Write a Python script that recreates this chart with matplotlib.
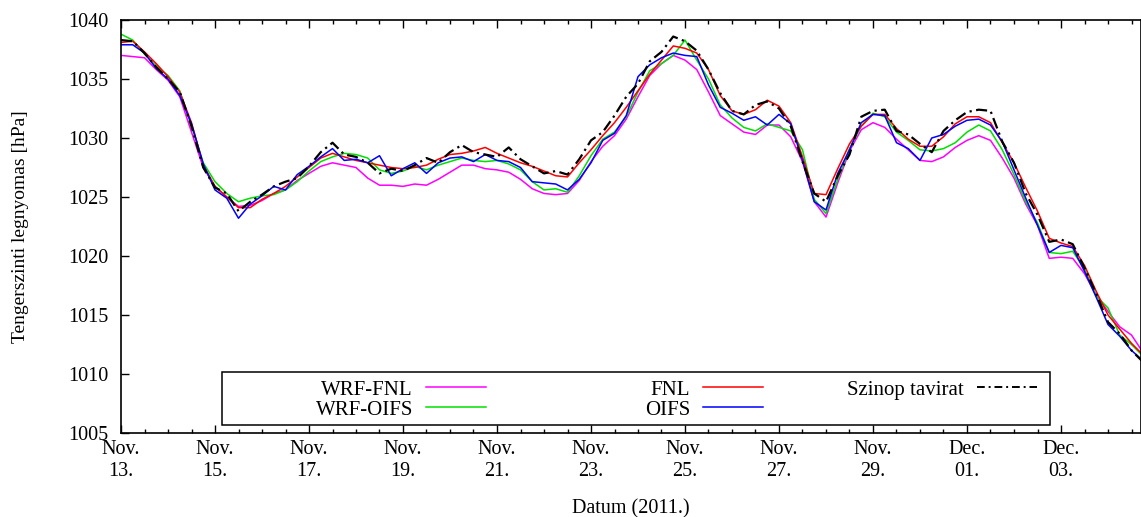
import numpy as np
import matplotlib
matplotlib.use("Agg")
import matplotlib.pyplot as plt
from matplotlib.patches import Rectangle
from matplotlib.lines import Line2D
from matplotlib.legend import Legend
from matplotlib.ticker import MultipleLocator

plt.rcParams['font.family'] = ['Liberation Serif', 'DejaVu Serif']

# time axis: days since 2011-11-13 00 UTC, 6-hourly
days = np.arange(0, 21.76, 0.25)

wrf_fnl = [1037.0, 1036.9, 1036.8, 1035.8, 1034.9, 1033.5, 1030.5, 1027.5,
           1025.9, 1025.0, 1024.2, 1024.3, 1024.7, 1025.3, 1025.6, 1026.4,
           1027.0, 1027.6, 1027.9, 1027.7, 1027.5, 1026.6, 1026.0, 1026.0,
           1025.9, 1026.1, 1026.0, 1026.5, 1027.1, 1027.7, 1027.7, 1027.4,
           1027.3, 1027.1, 1026.5, 1025.7, 1025.3, 1025.2, 1025.3, 1026.4,
           1028.0, 1029.3, 1030.2, 1031.6, 1033.5, 1035.3, 1036.3, 1037.0,
           1036.6, 1035.8, 1033.9, 1031.9, 1031.2, 1030.5, 1030.3, 1031.1,
           1031.1, 1030.1, 1028.0, 1024.6, 1023.3, 1026.2, 1028.9, 1030.7,
           1031.3, 1030.9, 1029.9, 1029.0, 1028.1, 1028.0, 1028.4, 1029.2,
           1029.8, 1030.2, 1029.8, 1028.3, 1026.6, 1024.4, 1022.6, 1019.8,
           1019.9, 1019.8, 1018.5, 1016.7, 1015.3, 1014.0, 1013.3, 1011.8]

wrf_oifs = [1038.8, 1038.3, 1037.1, 1036.1, 1035.3, 1034.0, 1031.0, 1027.9,
            1026.3, 1025.3, 1024.6, 1024.9, 1025.1, 1025.2, 1025.6, 1026.3,
            1027.2, 1028.0, 1028.4, 1028.7, 1028.6, 1028.3, 1027.3, 1027.0,
            1027.2, 1027.6, 1027.3, 1027.7, 1028.0, 1028.3, 1028.1, 1028.0,
            1028.1, 1027.8, 1027.3, 1026.3, 1025.6, 1025.7, 1025.4, 1026.8,
            1028.5, 1029.9, 1030.5, 1031.8, 1033.9, 1035.7, 1036.3, 1037.0,
            1038.3, 1036.6, 1035.0, 1032.8, 1031.7, 1030.9, 1030.6, 1031.2,
            1030.9, 1030.6, 1029.0, 1024.8, 1023.6, 1026.5, 1029.1, 1031.0,
            1032.1, 1031.8, 1030.5, 1029.8, 1029.0, 1028.9, 1029.1, 1029.6,
            1030.5, 1031.1, 1030.6, 1029.0, 1026.9, 1024.6, 1022.8, 1020.3,
            1020.2, 1020.4, 1018.9, 1016.6, 1015.6, 1013.3, 1012.5, 1011.5]

fnl = [1038.1, 1038.2, 1037.3, 1036.3, 1035.2, 1033.9, 1031.3, 1027.7,
       1025.9, 1025.0, 1024.1, 1024.1, 1024.8, 1025.3, 1025.9, 1026.7,
       1027.5, 1028.3, 1028.7, 1028.4, 1028.1, 1027.9, 1027.7, 1027.5,
       1027.4, 1027.5, 1027.7, 1028.2, 1028.6, 1028.7, 1028.9, 1029.2,
       1028.7, 1028.3, 1027.9, 1027.6, 1027.2, 1026.8, 1026.7, 1027.9,
       1029.0, 1030.2, 1031.3, 1032.6, 1034.0, 1035.4, 1036.6, 1037.8,
       1037.6, 1037.2, 1035.8, 1033.6, 1032.3, 1032.0, 1032.4, 1033.2,
       1032.7, 1031.3, 1028.4, 1025.3, 1025.2, 1027.4, 1029.5, 1031.0,
       1032.0, 1032.0, 1030.8, 1029.9, 1029.3, 1029.3, 1030.1, 1031.2,
       1031.8, 1031.8, 1031.3, 1029.6, 1027.9, 1025.8, 1023.8, 1021.5,
       1021.1, 1020.8, 1019.2, 1017.0, 1015.0, 1013.8, 1012.6, 1011.6]

oifs = [1037.9, 1037.9, 1037.2, 1035.9, 1035.0, 1033.6, 1031.2, 1027.8,
        1025.6, 1024.9, 1023.2, 1024.4, 1025.1, 1025.9, 1025.6, 1026.9,
        1027.6, 1028.4, 1029.1, 1028.1, 1028.2, 1027.9, 1028.5, 1026.8,
        1027.4, 1027.9, 1027.0, 1027.9, 1028.3, 1028.4, 1028.0, 1028.6,
        1028.1, 1028.0, 1027.5, 1026.3, 1026.2, 1026.1, 1025.6, 1026.5,
        1027.9, 1029.8, 1030.4, 1031.9, 1035.2, 1036.2, 1036.8, 1037.2,
        1037.0, 1036.9, 1034.5, 1032.6, 1032.1, 1031.5, 1031.8, 1031.1,
        1032.0, 1031.2, 1028.1, 1024.6, 1023.9, 1027.0, 1029.0, 1031.3,
        1032.0, 1031.9, 1029.6, 1029.1, 1028.1, 1030.0, 1030.3, 1031.0,
        1031.5, 1031.6, 1031.1, 1029.7, 1027.3, 1024.9, 1022.6, 1020.3,
        1020.9, 1020.7, 1018.7, 1016.5, 1014.2, 1013.2, 1012.0, 1011.1]

szinop = [1038.3, 1038.2, 1037.2, 1036.0, 1035.0, 1033.9, 1031.0, 1027.5,
          1025.8, 1025.3, 1023.8, 1024.6, 1025.2, 1025.9, 1026.3, 1026.6,
          1027.6, 1028.8, 1029.6, 1028.6, 1028.4, 1027.9, 1027.0, 1027.4,
          1027.2, 1027.7, 1028.3, 1027.9, 1028.8, 1029.4, 1028.8, 1028.6,
          1028.4, 1029.2, 1028.2, 1027.6, 1027.0, 1027.2, 1026.9, 1028.2,
          1029.8, 1030.5, 1031.9, 1033.5, 1034.6, 1036.5, 1037.3, 1038.6,
          1038.2, 1037.4, 1035.8, 1033.8, 1032.3, 1032.0, 1032.8, 1033.1,
          1032.5, 1031.0, 1028.0, 1025.3, 1024.6, 1026.8, 1028.6, 1031.8,
          1032.3, 1032.4, 1030.6, 1030.3, 1029.5, 1028.8, 1030.6, 1031.5,
          1032.2, 1032.4, 1032.3, 1029.7, 1027.9, 1025.3, 1023.5, 1021.2,
          1021.4, 1021.0, 1019.0, 1016.8, 1014.4, 1013.4, 1012.0, 1011.0]

tick_days = np.arange(0, 21, 2)
tick_labels = ['Nov.\n13.', 'Nov.\n15.', 'Nov.\n17.', 'Nov.\n19.', 'Nov.\n21.',
               'Nov.\n23.', 'Nov.\n25.', 'Nov.\n27.', 'Nov.\n29.', 'Dec.\n01.',
               'Dec.\n03.']

fig = plt.figure(figsize=(11.41, 5.17), dpi=100)
ax = fig.add_axes([121 / 1141, 84 / 517, 1020 / 1141, 413 / 517])

lw = 1.1
dash = [5, 2, 1, 2]
ax.plot(days, wrf_fnl, color='#ff00ff', lw=lw)
ax.plot(days, wrf_oifs, color='#00e000', lw=lw)
ax.plot(days, fnl, color='#ff0000', lw=lw)
ax.plot(days, oifs, color='#0000ff', lw=lw)
ax.plot(days, szinop, color='black', lw=1.6, dashes=dash)

ax.set_xlim(0, 1020 / 47)
ax.set_ylim(1005, 1040)
ax.set_xticks(tick_days)
ax.set_xticklabels(tick_labels)
ax.xaxis.set_minor_locator(MultipleLocator(0.5))
ax.yaxis.set_major_locator(MultipleLocator(5))
ax.tick_params(axis='x', which='both', direction='in', top=True, labelsize=14.5, pad=5)
ax.tick_params(axis='x', which='major', length=6, width=1)
ax.tick_params(axis='x', which='minor', length=3, width=1)
ax.tick_params(axis='y', direction='in', length=6, width=1, labelsize=14.5, pad=9)
for s in ax.spines.values():
    s.set_linewidth(1.2)

ax.set_xlabel('Datum (2011.)', fontsize=14.5, labelpad=13)
ax.set_ylabel('Tengerszinti legnyomas [hPa]', fontsize=14)
ax.yaxis.set_label_coords(-0.09, 0.5)

# key box in gnuplot style: frame plus three right-aligned columns
ax.add_patch(Rectangle((0.099, 0.0194), 0.8118, 0.1283, transform=ax.transAxes,
                       fill=True, facecolor='white', edgecolor='black', lw=1.1, zorder=4))

columns = [
    (0.3578, [('WRF-FNL', '#ff00ff', lw, None), ('WRF-OIFS', '#00e000', lw, None)]),
    (0.6294, [('FNL', '#ff0000', lw, None), ('OIFS', '#0000ff', lw, None)]),
    (0.898, [('Szinop tavirat', 'black', 1.4, [4, 2, 1, 2])]),
]
for right, entries in columns:
    handles = []
    for name, col, w, ds in entries:
        ln = Line2D([], [], color=col, lw=w)
        if ds:
            ln.set_dashes(ds)
        handles.append(ln)
    leg = Legend(ax, handles, [e[0] for e in entries], markerfirst=False, frameon=False,
                 loc='upper right', bbox_to_anchor=(right, 0.128),
                 bbox_transform=ax.transAxes,
                 fontsize=15, handlelength=2.9, handletextpad=0.6,
                 labelspacing=0.02, borderpad=0, borderaxespad=0)
    leg.set_zorder(5)
    ax.add_artist(leg)

fig.savefig('out.png', dpi=100)
